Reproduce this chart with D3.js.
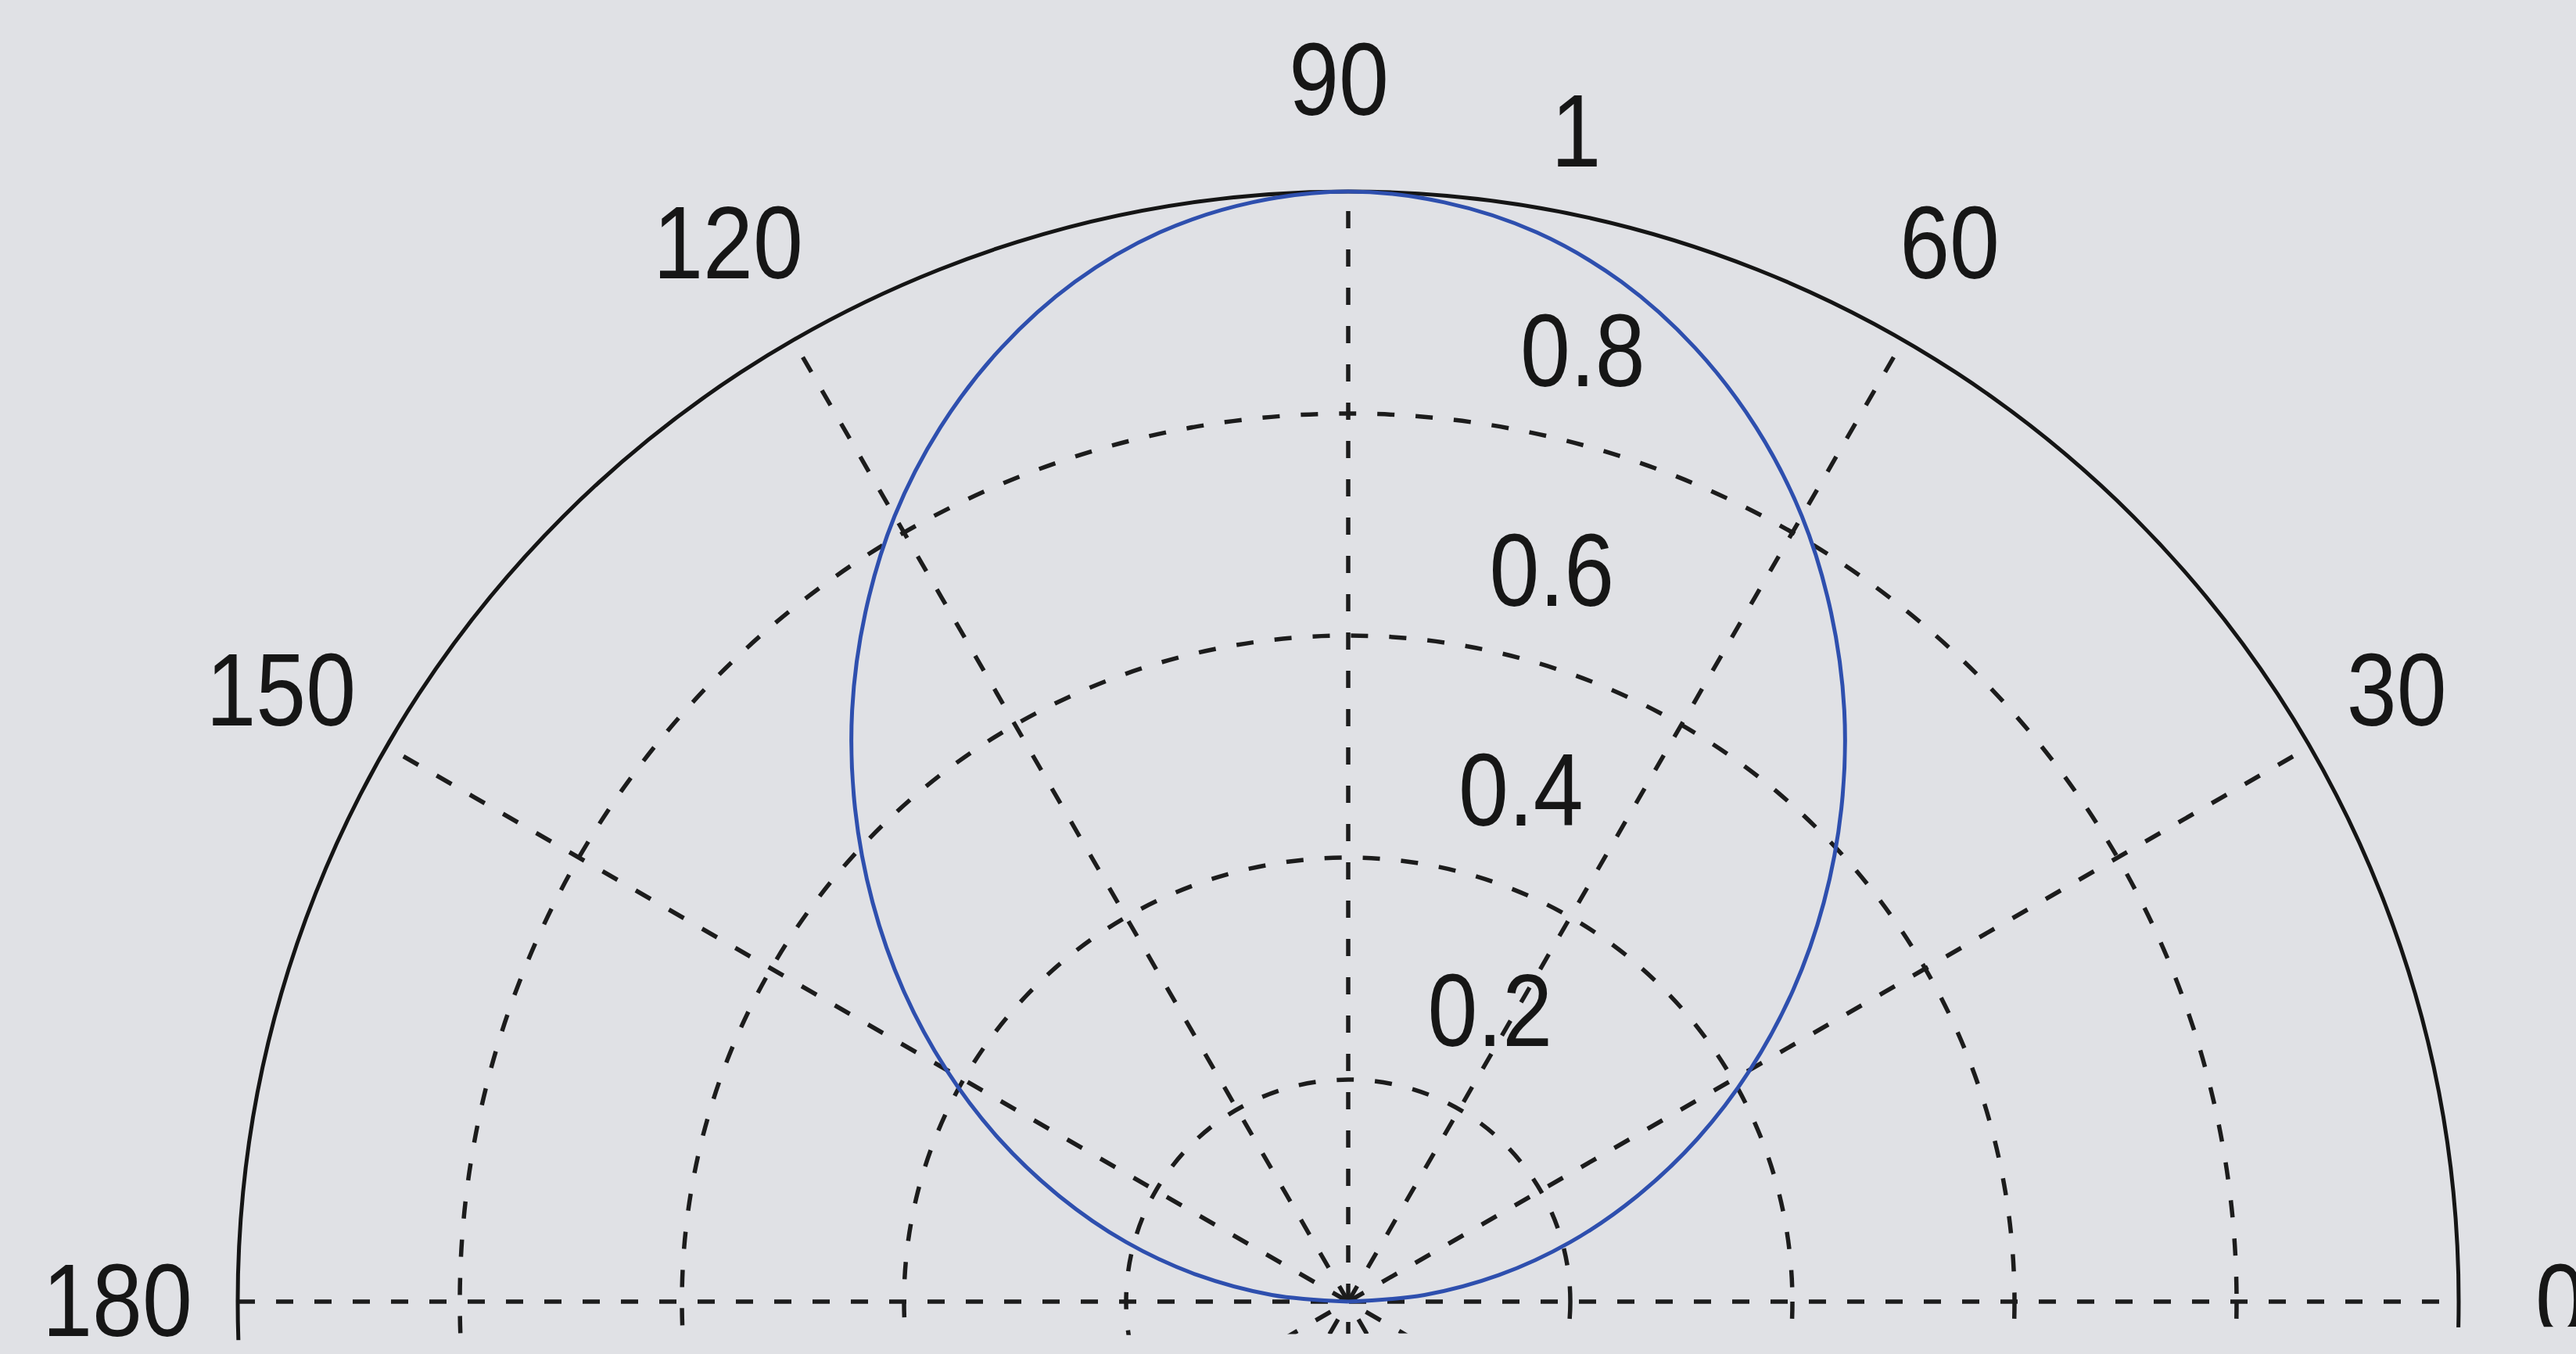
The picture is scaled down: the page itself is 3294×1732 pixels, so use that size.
<!DOCTYPE html>
<html>
<head>
<meta charset="utf-8">
<script src="https://cdn.jsdelivr.net/npm/d3@7"></script>
<style>
  html, body { margin: 0; padding: 0; background: #e0e1e5; }
  svg { display: block; }
  text { font-family: "Liberation Sans", Arial, sans-serif; fill: #161616; }
</style>
</head>
<body>
<svg id="chart" width="3294" height="1732"></svg>
<script>
// Angular grid: spokes every 30 degrees, labelled around the rim
const angleTicks = [0, 30, 60, 90, 120, 150, 180];
const angleLabels = ["0", "30", "60", "90", "120", "150", "180"];

// Radial grid: rings every 0.2, outer ring at 1
const ringTicks = [0.2, 0.4, 0.6, 0.8];
const ringLabelValues = [0.2, 0.4, 0.6, 0.8, 1];
const ringLabels = ["0.2", "0.4", "0.6", "0.8", "1"];

// Radiation pattern samples (degrees, normalised magnitude)
const thetaDeg = [0, 5, 10, 15, 20, 25, 30, 35, 40, 45, 50, 55, 60, 65, 70, 75, 80, 85, 90,
                  95, 100, 105, 110, 115, 120, 125, 130, 135, 140, 145, 150, 155, 160, 165, 170, 175, 180];
const gain = [0.000, 0.069, 0.138, 0.207, 0.276, 0.347, 0.418, 0.489, 0.559, 0.628, 0.695, 0.758, 0.817, 0.869, 0.914, 0.951, 0.978, 0.994, 1.000,
              0.994, 0.978, 0.951, 0.914, 0.869, 0.817, 0.758, 0.695, 0.628, 0.559, 0.489, 0.418, 0.347, 0.276, 0.207, 0.138, 0.069, 0.000];

const W = 3294, H = 1732;
const cx = 1724, cy = 1665, R = 1420;

const svg = d3.select("#chart");

svg.append("rect").attr("width", W).attr("height", H).attr("fill", "#e0e1e5");

// The lower half of the polar axes lies below the frame edge
const defs = svg.append("defs");
defs.append("clipPath").attr("id", "frame")
  .append("polygon")
  .attr("points", `0,0 ${W},0 ${W},1697 0,1716`);

const root = svg.append("g").attr("clip-path", "url(#frame)");

const r = d3.scaleLinear().domain([0, 1]).range([0, R]);
const ang = d3.scaleLinear().domain([0, 360]).range([0, 2 * Math.PI]);
const px = (deg, v) => cx + r(v) * Math.cos(ang(deg));
const py = (deg, v) => cy - r(v) * Math.sin(ang(deg));

const gridColor = "#1c1c1c";
const dash = "22 27";

// Dashed rings
root.append("g").selectAll("circle")
  .data(ringTicks)
  .join("circle")
  .attr("cx", cx).attr("cy", cy)
  .attr("r", d => r(d))
  .attr("fill", "none")
  .attr("stroke", gridColor)
  .attr("stroke-width", 5.5)
  .attr("stroke-dasharray", dash);

// Dashed spokes (full diameters through the origin)
root.append("g").selectAll("line")
  .data(angleTicks.filter(a => a < 180))
  .join("line")
  .attr("x1", d => px(d + 180, 1)).attr("y1", d => py(d + 180, 1))
  .attr("x2", d => px(d, 1)).attr("y2", d => py(d, 1))
  .attr("stroke", gridColor)
  .attr("stroke-width", 5.5)
  .attr("stroke-dasharray", dash);

// Solid outer ring
root.append("circle")
  .attr("cx", cx).attr("cy", cy).attr("r", r(1))
  .attr("fill", "none")
  .attr("stroke", "#151515")
  .attr("stroke-width", 5);

// Ring labels, set just right of the 82 degree direction
const labelAngle = 82;
const fontPx = 132, squeeze = 0.87;
root.append("g").selectAll("text")
  .data(ringLabelValues.map((v, i) => ({ v, label: ringLabels[i] })))
  .join("text")
  .attr("transform", d => `translate(${px(labelAngle, d.v + 0.01) + 60},${py(labelAngle, d.v + 0.01) - 32}) scale(${squeeze},1)`)
  .attr("font-size", fontPx)
  .attr("text-anchor", "start")
  .text(d => d.label);

// Angle labels outside the rim
root.append("g").selectAll("text")
  .data(angleTicks.map((a, i) => ({ a, label: angleLabels[i] })))
  .join("text")
  .attr("transform", d => `translate(${px(d.a, 1.1) - 12},${py(d.a, 1.1) + 44}) scale(${squeeze},1)`)
  .attr("font-size", fontPx)
  .attr("text-anchor", "middle")
  .text(d => d.label);

// Pattern trace
const pattern = thetaDeg.map((t, i) => ({ t, v: gain[i] }));
const radial = d3.lineRadial()
  .angle(d => Math.PI / 2 - ang(d.t))
  .radius(d => r(d.v))
  .curve(d3.curveCatmullRom);

root.append("path")
  .attr("transform", `translate(${cx},${cy})`)
  .attr("d", radial(pattern))
  .attr("fill", "none")
  .attr("stroke", "#2e4fae")
  .attr("stroke-width", 5);
</script>
</body>
</html>
